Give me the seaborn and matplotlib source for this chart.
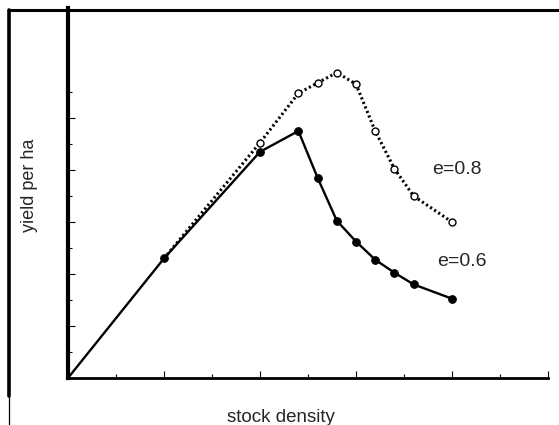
import matplotlib
matplotlib.use('Agg')
import matplotlib.pyplot as plt
from matplotlib.lines import Line2D
import seaborn as sns

# data
x_e06 = [0, 2, 4, 4.8, 5.2, 5.6, 6.0, 6.4, 6.8, 7.2, 8.0]
y_e06 = [0, 4.6, 8.7, 9.5, 7.7, 6.05, 5.25, 4.55, 4.05, 3.6, 3.05]

x_e08 = [2, 4, 4.8, 5.2, 5.6, 6.0, 6.4, 6.8, 7.2, 8.0]
y_e08 = [4.6, 9.05, 10.95, 11.35, 11.75, 11.3, 9.5, 8.05, 7.0, 6.0]

sns.set_style('white')
plt.rcParams['font.family'] = ['Liberation Sans', 'DejaVu Sans']

fig = plt.figure(figsize=(5.59, 4.25), dpi=100)
ax = fig.add_axes([68/559, 47/425, 480/559, 370/425])

sns.lineplot(x=x_e08, y=y_e08, ax=ax, color='black', linewidth=2.2,
             linestyle=(0, (0.7, 0.9)), marker='o', markersize=5,
             markerfacecolor='white', markeredgecolor='black',
             markeredgewidth=1.0, markevery=list(range(1, len(x_e08))),
             sort=False, estimator=None)
sns.lineplot(x=x_e06, y=y_e06, ax=ax, color='black', linewidth=1.7,
             marker='o', markersize=5.5, markerfacecolor='black',
             markeredgecolor='black', markevery=list(range(1, len(x_e06))),
             sort=False, estimator=None)

ax.set_xlim(0, 10)
ax.set_ylim(0, 370/26)

ax.set_xticks([0, 2, 4, 6, 8, 10])
ax.set_xticks([1, 3, 5, 7, 9], minor=True)
ax.set_yticks([2, 4, 6, 8, 10])
ax.set_yticks([1, 3, 5, 7, 9, 11], minor=True)
ax.tick_params(which='both', direction='in', bottom=True, left=True,
               labelbottom=False, labelleft=False, color='black', width=0.8)
ax.tick_params(which='major', length=5)
ax.tick_params(which='minor', length=3)

sns.despine(ax=ax)
ax.spines['left'].set_linewidth(3)
ax.spines['bottom'].set_linewidth(2)
ax.spines['left'].set_color('black')
ax.spines['bottom'].set_color('black')

ax.set_xlabel('')
ax.set_ylabel('')

ax.text(8.1, 8.0, 'e=0.8', fontsize=14, ha='center', va='center')
ax.text(8.2, 4.5, 'e=0.6', fontsize=14, ha='center', va='center')

fig.text(281/559, 1 - 417/425, 'stock density', fontsize=13.5, ha='center', va='center')
fig.text(29/559, 1 - 185/425, 'yield per ha', fontsize=13, rotation=90,
         ha='center', va='center')

# outer frame lines of the scanned page
fig.add_artist(Line2D([9/559, 1], [1 - 10/425, 1 - 10/425], color='black',
                      linewidth=2.2, transform=fig.transFigure))
fig.add_artist(Line2D([9/559, 9/559], [1 - 10/425, 1 - 396/425], color='black',
                      linewidth=2.6, transform=fig.transFigure))
fig.add_artist(Line2D([9/559, 9/559], [1 - 396/425, 0], color='black',
                      linewidth=0.9, transform=fig.transFigure))

fig.savefig('out.png', dpi=100)
